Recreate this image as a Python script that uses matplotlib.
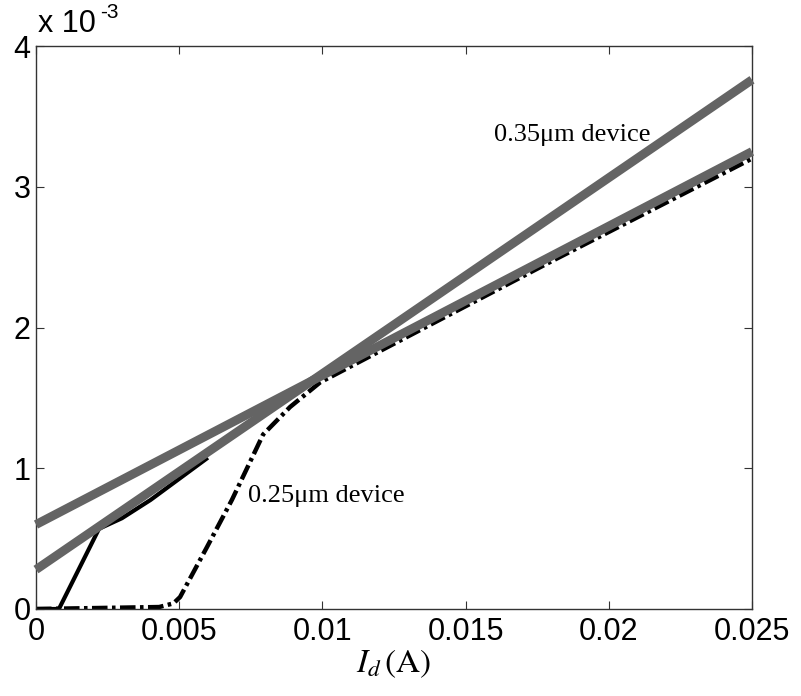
import numpy as np
import matplotlib
matplotlib.use("Agg")
import matplotlib.pyplot as plt
from matplotlib.ticker import FuncFormatter

# fitted straight lines (x in A, y in V)
fit_x = [0.0, 0.025]
fit_steep = [0.28e-3, 3.76e-3]
fit_flat = [0.60e-3, 3.25e-3]

# measured curve, solid (ends where it joins the fit)
solid_x = [0.0, 0.0008, 0.0022, 0.0030, 0.0040, 0.0050, 0.0060]
solid_y = [0.0, 0.0, 0.57e-3, 0.645e-3, 0.775e-3, 0.925e-3, 1.075e-3]

# measured curve, dash-dot
dd_x = [0.0, 0.0043, 0.0048, 0.00503, 0.00597, 0.00684, 0.00772, 0.00793,
        0.00887, 0.00992, 0.0179, 0.025]
dd_y = [0.0, 0.014e-3, 0.04e-3, 0.085e-3, 0.44e-3, 0.775e-3, 1.15e-3, 1.24e-3,
        1.435e-3, 1.61e-3, 2.46e-3, 3.2e-3]

xticks = [0, 0.005, 0.01, 0.015, 0.02, 0.025]
yticks = [0, 1e-3, 2e-3, 3e-3, 4e-3]

plt.rcParams['font.family'] = ['Liberation Sans', 'DejaVu Sans']
plt.rcParams['mathtext.fontset'] = 'stix'

fig = plt.figure(figsize=(8.01, 6.96), dpi=100)
ax = fig.add_axes([36/801, 1-609/696, (752-36)/801, (609-46)/696])

gray = '#646464'
ax.plot(solid_x, solid_y, color='black', lw=3.0, solid_capstyle='butt', zorder=2)
ax.plot(dd_x, dd_y, color='black', lw=3.2, linestyle=(0, (3.5, 1.0, 0.8, 1.0)), zorder=2)
ax.plot(fit_x, fit_steep, color=gray, lw=6.4, solid_capstyle='butt', zorder=3, clip_on=False)
ax.plot(fit_x, fit_flat, color=gray, lw=6.4, solid_capstyle='butt', zorder=3, clip_on=False)

ax.set_xlim(0, 0.025)
ax.set_ylim(0, 4e-3)
ax.set_xticks(xticks)
ax.set_yticks(yticks)
ax.xaxis.set_major_formatter(FuncFormatter(lambda v, p: '%g' % v))
ax.yaxis.set_major_formatter(FuncFormatter(lambda v, p: '%g' % round(v * 1e3, 6)))
ax.tick_params(direction='in', top=True, right=True, length=6, width=0.8,
               labelsize=22, color='#333333')
ax.tick_params(axis='x', pad=6)
ax.tick_params(axis='y', pad=4)
for s in ax.spines.values():
    s.set_color('#333333')
    s.set_linewidth(1.0)

# exponent above the y axis
ax.text(0.003, 1.024, 'x 10', transform=ax.transAxes, fontsize=22, va='baseline')
ax.text(0.09, 1.05, '-3', transform=ax.transAxes, fontsize=15, va='baseline')

ax.set_xlabel(r'$I_d\,\mathrm{(A)}$', fontsize=24, labelpad=0)

serif = ['Liberation Serif', 'DejaVu Serif']
ax.text(0.0160, 3.37e-3, '0.35\u03bcm device', family=serif, fontsize=19, va='center')
ax.text(0.00741, 0.80e-3, '0.25\u03bcm device', family=serif, fontsize=19, va='center')

fig.savefig('out.png', dpi=100)
